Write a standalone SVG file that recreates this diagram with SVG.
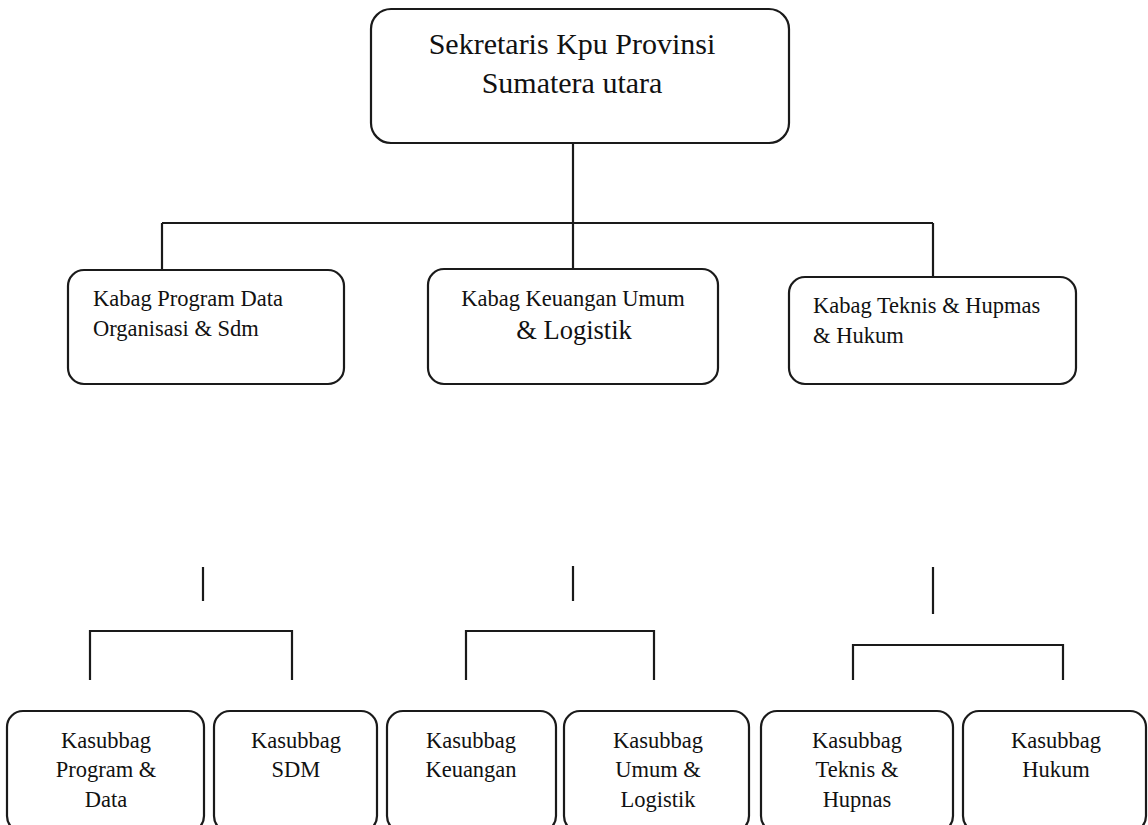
<svg xmlns="http://www.w3.org/2000/svg" width="1148" height="825" viewBox="0 0 1148 825">
<style>
  .box { fill: #ffffff; stroke: #1a1a1a; stroke-width: 2.2; }
  .ln { fill: none; stroke: #1a1a1a; stroke-width: 2.2; stroke-linecap: butt; }
  .t { font-family: "Liberation Serif", "Times New Roman", serif; fill: #111111; }
  .big { font-size: 30px; }
  .mid { font-size: 22.5px; }
  .lg { font-size: 26.5px; }
  .sm { font-size: 22.5px; }
  .c { text-anchor: middle; }
</style>
<rect width="1148" height="825" fill="#ffffff"/>
<g id="connectors">
  <path class="ln" d="M573 143 V269"/>
  <path class="ln" d="M162 223 H933"/>
  <path class="ln" d="M162 223 V270"/>
  <path class="ln" d="M933 223 V277"/>
  <path class="ln" d="M203 567 V601"/>
  <path class="ln" d="M573 566 V601"/>
  <path class="ln" d="M933 567 V614"/>
  <path class="ln" d="M90 680 V631 H292 V680"/>
  <path class="ln" d="M466 680 V631 H654 V680"/>
  <path class="ln" d="M853 680 V645 H1063 V680"/>
</g>
<g id="sekretaris">
  <rect class="box" x="371" y="9" width="418" height="134" rx="20" ry="20"/>
  <text class="t big c" x="572" y="54">Sekretaris Kpu Provinsi</text>
  <text class="t big c" x="572" y="93">Sumatera utara</text>
</g>
<g id="kabag-program">
  <rect class="box" x="68" y="270" width="276" height="114" rx="16" ry="16"/>
  <text class="t mid" x="93" y="306">Kabag Program Data</text>
  <text class="t mid" x="93" y="336">Organisasi &amp; Sdm</text>
</g>
<g id="kabag-keuangan">
  <rect class="box" x="428" y="269" width="290" height="115" rx="16" ry="16"/>
  <text class="t mid c" x="573" y="306">Kabag Keuangan Umum</text>
  <text class="t lg c" x="574" y="339">&amp; Logistik</text>
</g>
<g id="kabag-teknis">
  <rect class="box" x="789" y="277" width="287" height="107" rx="16" ry="16"/>
  <text class="t mid" x="813" y="313">Kabag Teknis &amp; Hupmas</text>
  <text class="t mid" x="813" y="343">&amp; Hukum</text>
</g>
<g id="kasubbag-program">
  <rect class="box" x="7" y="711" width="197" height="121" rx="16" ry="16"/>
  <text class="t sm c" x="106" y="748">Kasubbag</text>
  <text class="t sm c" x="106" y="777">Program &amp;</text>
  <text class="t sm c" x="106" y="807">Data</text>
</g>
<g id="kasubbag-sdm">
  <rect class="box" x="214" y="711" width="163" height="121" rx="16" ry="16"/>
  <text class="t sm c" x="296" y="748">Kasubbag</text>
  <text class="t sm c" x="296" y="777">SDM</text>
</g>
<g id="kasubbag-keuangan">
  <rect class="box" x="387" y="711" width="169" height="121" rx="16" ry="16"/>
  <text class="t sm c" x="471" y="748">Kasubbag</text>
  <text class="t sm c" x="471" y="777">Keuangan</text>
</g>
<g id="kasubbag-umum">
  <rect class="box" x="564" y="711" width="185" height="121" rx="16" ry="16"/>
  <text class="t sm c" x="658" y="748">Kasubbag</text>
  <text class="t sm c" x="658" y="777">Umum &amp;</text>
  <text class="t sm c" x="658" y="807">Logistik</text>
</g>
<g id="kasubbag-teknis">
  <rect class="box" x="761" y="711" width="192" height="121" rx="16" ry="16"/>
  <text class="t sm c" x="857" y="748">Kasubbag</text>
  <text class="t sm c" x="857" y="777">Teknis &amp;</text>
  <text class="t sm c" x="857" y="807">Hupnas</text>
</g>
<g id="kasubbag-hukum">
  <rect class="box" x="963" y="711" width="183" height="121" rx="16" ry="16"/>
  <text class="t sm c" x="1056" y="748">Kasubbag</text>
  <text class="t sm c" x="1056" y="777">Hukum</text>
</g>
</svg>
